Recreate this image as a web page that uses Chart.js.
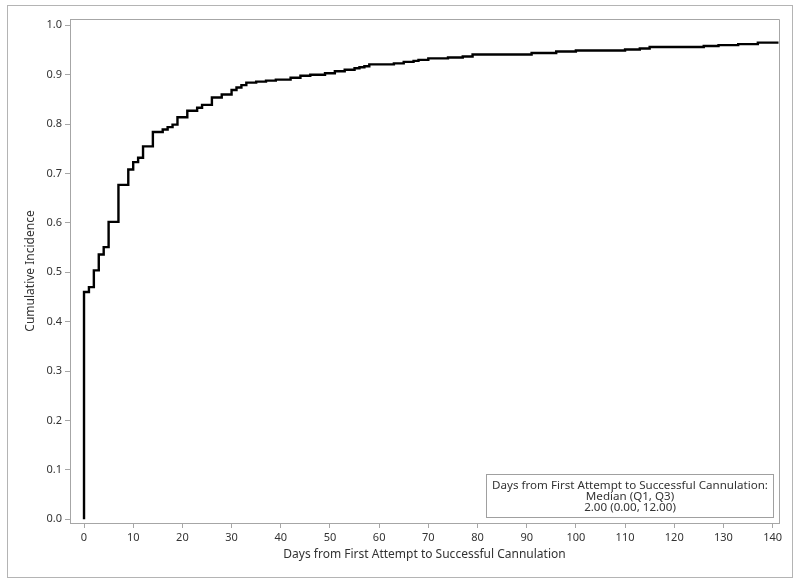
<!DOCTYPE html>
<html>
<head>
<meta charset="utf-8">
<script src="https://cdn.jsdelivr.net/npm/chart.js@4/dist/chart.umd.min.js"></script>
<style>
  html, body { margin: 0; padding: 0; background: #ffffff; }
  #wrap { width: 800px; height: 584px; position: relative; }
</style>
</head>
<body>
<div id="wrap"><canvas id="c" width="800" height="584"></canvas></div>
<script>
// ---- data ----
const days = [0, 0, 1, 2, 3, 4, 5, 7, 9, 10, 11, 12, 14, 16, 17, 18, 19, 21, 23, 24, 26, 28, 30, 31, 32, 33, 35, 37, 39, 42, 44, 46, 49, 51, 53, 55, 56, 57, 58, 63, 65, 67, 68, 70, 74, 77, 79, 91, 96, 100, 110, 113, 115, 126, 129, 133, 137, 141.2];
const cumInc = [0, 0.460, 0.470, 0.504, 0.536, 0.551, 0.602, 0.677, 0.708, 0.723, 0.732, 0.755, 0.784, 0.789, 0.794, 0.799, 0.814, 0.827, 0.833, 0.839, 0.854, 0.860, 0.869, 0.874, 0.879, 0.884, 0.886, 0.888, 0.890, 0.894, 0.898, 0.900, 0.903, 0.907, 0.910, 0.913, 0.915, 0.917, 0.921, 0.923, 0.926, 0.928, 0.930, 0.933, 0.935, 0.937, 0.941, 0.944, 0.947, 0.949, 0.951, 0.953, 0.956, 0.958, 0.960, 0.962, 0.965, 0.965];
const xTitle = "Days from First Attempt to Successful Cannulation";
const yTitle = "Cumulative Incidence";
const insetLines = ["Days from First Attempt to Successful Cannulation:", "Median (Q1, Q3)", "2.00 (0.00, 12.00)"];

const points = days.map((d, i) => ({ x: d, y: cumInc[i] }));
const axisGray = "#a6a6a6";
const textColor = "#333333";
const fontFamily = "'Noto Sans', 'Liberation Sans', sans-serif";

const framePlugin = {
  id: 'frame',
  beforeDraw(chart) {
    const ctx = chart.ctx;
    ctx.save();
    ctx.fillStyle = '#ffffff';
    ctx.fillRect(0, 0, chart.width, chart.height);
    ctx.strokeStyle = '#b4b4b4';
    ctx.lineWidth = 1;
    ctx.strokeRect(7.5, 5.5, 785, 572);
    ctx.restore();
  },
  afterDraw(chart) {
    const ctx = chart.ctx;
    const a = chart.chartArea;
    ctx.save();
    ctx.strokeStyle = axisGray;
    ctx.lineWidth = 1;
    ctx.beginPath();
    ctx.moveTo(Math.round(a.left) + 0.5, Math.round(a.top) + 0.5);
    ctx.lineTo(Math.round(a.right) + 0.5, Math.round(a.top) + 0.5);
    ctx.lineTo(Math.round(a.right) + 0.5, Math.round(a.bottom) + 0.5);
    ctx.stroke();
    // inset box
    const bw = 287, bh = 43;
    const bx = Math.round(a.right - 6.5 - bw) + 0.5;
    const by = Math.round(a.bottom - 6 - bh) + 0.5;
    ctx.fillStyle = '#ffffff';
    ctx.fillRect(bx, by, bw, bh);
    ctx.strokeStyle = '#a0a0a0';
    ctx.strokeRect(bx, by, bw, bh);
    ctx.fillStyle = textColor;
    ctx.font = "11.6px " + fontFamily;
    ctx.textAlign = 'center';
    ctx.textBaseline = 'middle';
    const cx = bx + bw / 2;
    insetLines.forEach((t, i) => ctx.fillText(t, cx, by + 11 + i * 11.2));
    ctx.restore();
  }
};

new Chart(document.getElementById('c'), {
  type: 'line',
  data: {
    datasets: [{
      data: points,
      stepped: true,
      borderColor: '#000000',
      borderWidth: 2.4,
      pointRadius: 0,
      fill: false,
      tension: 0
    }]
  },
  options: {
    responsive: false,
    animation: false,
    devicePixelRatio: 1,
    layout: { padding: { left: 0, top: 19, right: 21, bottom: 0 } },
    plugins: { legend: { display: false }, tooltip: { enabled: false } },
    scales: {
      x: {
        type: 'linear',
        min: -2.85,
        max: 141.3,
        afterFit(s) { s.height = 61; },
        border: { display: true, color: axisGray, width: 1 },
        grid: { display: true, drawOnChartArea: false, drawTicks: true, tickLength: 5, color: axisGray },
        ticks: {
          stepSize: 10, includeBounds: false, autoSkip: false, maxRotation: 0,
          padding: 3, color: textColor, font: { family: fontFamily, size: 11 },
          callback: v => String(Math.round(v))
        },
        title: { display: true, text: xTitle, color: textColor, font: { family: fontFamily, size: 12 }, padding: { top: 0, bottom: 22 } }
      },
      y: {
        type: 'linear',
        min: -0.0075,
        max: 1.0128,
        afterFit(s) { s.width = 70; },
        border: { display: true, color: axisGray, width: 1 },
        grid: { display: true, drawOnChartArea: false, drawTicks: true, tickLength: 5, color: axisGray },
        ticks: {
          stepSize: 0.1, includeBounds: false, autoSkip: false,
          padding: 3, color: textColor, font: { family: fontFamily, size: 11 },
          callback: v => Number(v).toFixed(1)
        },
        title: { display: true, text: yTitle, color: textColor, font: { family: fontFamily, size: 12 }, padding: { top: 23, bottom: 0 } }
      }
    }
  },
  plugins: [framePlugin]
});
</script>
</body>
</html>
